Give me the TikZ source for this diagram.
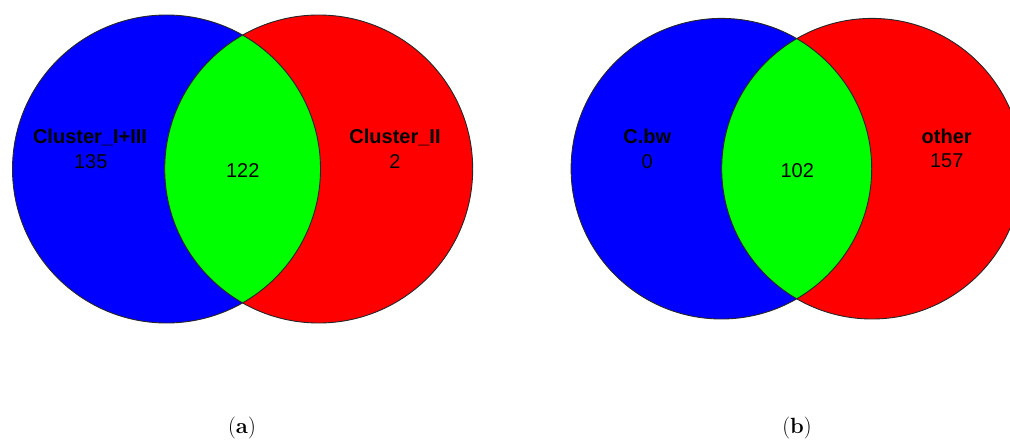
\documentclass[tikz,border=0pt]{standalone}
\usepackage{fontspec}
\setsansfont{Liberation Sans}
\definecolor{setblue}{RGB}{0,0,255}
\definecolor{setred}{RGB}{255,0,0}
\definecolor{setgreen}{RGB}{0,255,0}
\begin{document}
\begin{tikzpicture}[x=1pt,y=-1pt,
  rim/.style={draw=black!85,line width=0.9pt},
  setname/.style={anchor=base,inner sep=0pt,font=\sffamily\bfseries\fontsize{20}{20}\selectfont},
  setcount/.style={anchor=base,inner sep=0pt,font=\sffamily\fontsize{20}{20}\selectfont},
  caption/.style={anchor=base,inner sep=0pt,font=\rmfamily\fontsize{22}{22}\selectfont}]
\useasboundingbox (0,0) rectangle (1010,441);
\clip (0,0) rectangle (1010,441);

% left diagram: Cluster_I+III vs Cluster_II
\coordinate (a1) at (166.5,169);
\coordinate (a2) at (318.7,169);
\fill[setblue] (a1) circle[radius=154pt];
\fill[setred] (a2) circle[radius=154pt];
\begin{scope}
  \clip (a1) circle[radius=154pt];
  \fill[setgreen] (a2) circle[radius=154pt];
\end{scope}
\draw[rim] (a1) circle[radius=154pt];
\draw[rim] (a2) circle[radius=154pt];

\node[setname]  (aname1) at (90,144) {Cluster\_I+III};
\node[setcount] (acnt1)  at (90.7,168) {135};
\node[setcount] (acnt12) at (242.7,177.8) {122};
\node[setname]  (aname2) at (395,144) {Cluster\_II};
\node[setcount] (acnt2)  at (395,168) {2};

% right diagram: C.bw vs other
\coordinate (b1) at (721.4,168.7);
\coordinate (b2) at (872,168.7);
\fill[setblue] (b1) circle[radius=150.3pt];
\fill[setred] (b2) circle[radius=150.3pt];
\begin{scope}
  \clip (b1) circle[radius=150.3pt];
  \fill[setgreen] (b2) circle[radius=150.3pt];
\end{scope}
\draw[rim] (b1) circle[radius=150.3pt];
\draw[rim] (b2) circle[radius=150.3pt];

\node[setname]  (bname1) at (647.3,144) {C.bw};
\node[setcount] (bcnt1)  at (647.3,168) {0};
\node[setcount] (bcnt12) at (797.3,177.3) {102};
\node[setname]  (bname2) at (946.7,144) {other};
\node[setcount] (bcnt2)  at (946.7,167.3) {157};

% panel captions
\node[caption] (capa) at (242,433) {(\textbf{a})};
\node[caption] (capb) at (797,433) {(\textbf{b})};
\end{tikzpicture}
\end{document}
